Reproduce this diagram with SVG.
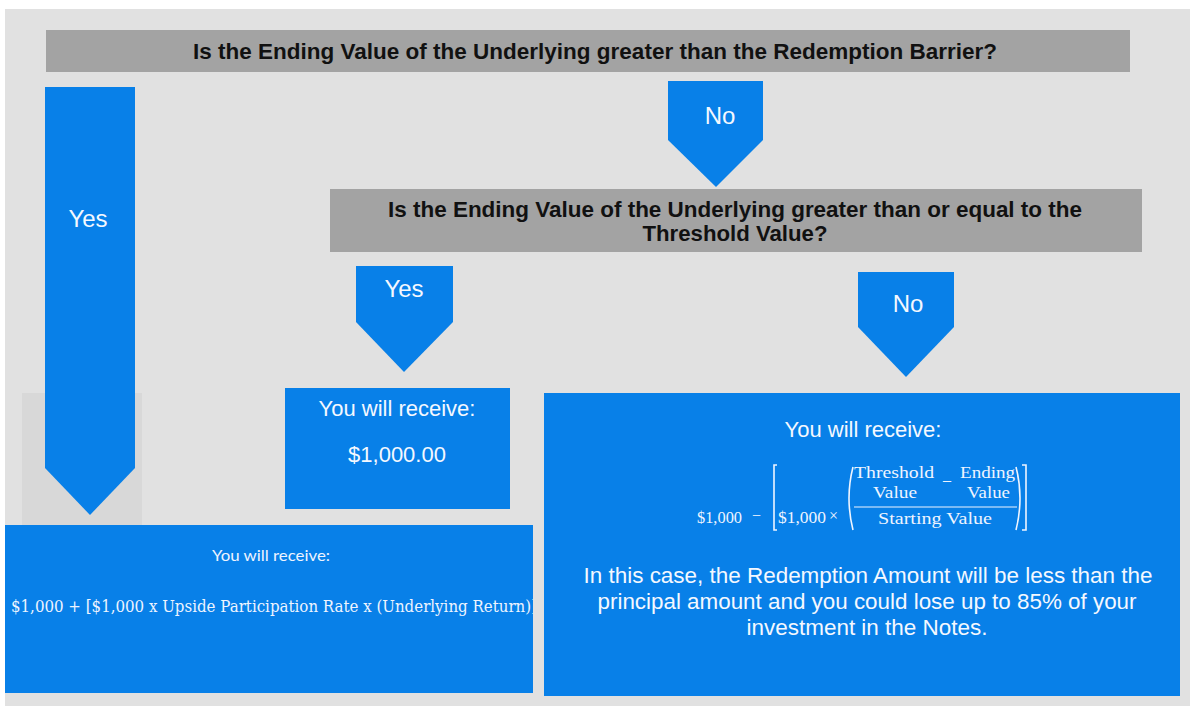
<svg xmlns="http://www.w3.org/2000/svg" width="1190" height="706" viewBox="0 0 1190 706">
<defs>
<style>
.q{fill:#a3a3a3}
.blue{fill:#0880e8}
.qt{font-family:"Liberation Sans",Arial,sans-serif;font-weight:bold;font-size:22px;fill:#111;text-anchor:middle}
.lbl{font-family:"Liberation Sans",Arial,sans-serif;font-size:24px;fill:#f4f8ff;text-anchor:middle}
.bt{font-family:"Liberation Sans",Arial,sans-serif;font-size:22px;fill:#f4f8ff;text-anchor:middle}
.mf{font-family:"Liberation Serif","DejaVu Serif",serif;font-size:16px;fill:#eef4ff}
.br{fill:none;stroke:#eef4ff;stroke-width:1.6}
</style>
<clipPath id="clipL"><rect x="5" y="525" width="528" height="168"/></clipPath>
</defs>
<rect x="0" y="0" width="1190" height="706" fill="#ffffff"/>
<rect x="5" y="9" width="1185" height="697" fill="#e1e1e1"/>
<rect x="22" y="393" width="120" height="132" fill="#d8d8d8"/>

<g id="q1">
<rect class="q" x="46" y="30" width="1084" height="42" fill="#a1a1a1"/>
<text class="qt" x="595" y="59" textLength="804" lengthAdjust="spacingAndGlyphs">Is the Ending Value of the Underlying greater than the Redemption Barrier?</text>
</g>

<g id="q2">
<rect class="q" x="330" y="189" width="812" height="63"/>
<text class="qt" x="735" y="217" font-size="21" textLength="694" lengthAdjust="spacingAndGlyphs">Is the Ending Value of the Underlying greater than or equal to the</text>
<text class="qt" x="735" y="241" font-size="21" textLength="185" lengthAdjust="spacingAndGlyphs">Threshold Value?</text>
</g>

<g id="connectors">
<g id="yes1">
<polygon class="blue" points="45,87 135,87 135,468 90,515 45,468"/>
<text class="lbl" x="88" y="227">Yes</text>
</g>
<g id="no1">
<polygon class="blue" points="668,81 763,81 763,140 716,187 668,140"/>
<text class="lbl" x="720" y="124">No</text>
</g>
<g id="yes2">
<polygon class="blue" points="356,266 453,266 453,322 404,372 356,322"/>
<text class="lbl" x="404" y="297">Yes</text>
</g>
<g id="no2">
<polygon class="blue" points="858,272 954,272 954,327 906,377 858,327"/>
<text class="lbl" x="908" y="312">No</text>
</g>
</g>

<g id="fixed">
<rect class="blue" x="285" y="388" width="225" height="121"/>
<text class="bt" x="397" y="416">You will receive:</text>
<text class="bt" x="397" y="462">$1,000.00</text>
</g>

<g id="upside">
<rect class="blue" x="5" y="525" width="528" height="168"/>
<text x="271" y="561" text-anchor="middle" font-family="Lato,'Open Sans',sans-serif" font-size="15" fill="#eef4ff" textLength="118" lengthAdjust="spacingAndGlyphs">You will receive:</text>
<g clip-path="url(#clipL)">
<text x="11" y="612" font-family="'DejaVu Serif','Liberation Serif',serif" font-size="16" fill="#eef4ff" textLength="526" lengthAdjust="spacingAndGlyphs">$1,000 + [$1,000 x Upside Participation Rate x (Underlying Return)]</text>
</g>
</g>

<g id="loss">
<rect class="blue" x="544" y="393" width="636" height="303"/>
<text class="bt" x="863" y="437">You will receive:</text>
<text class="mf" x="697" y="523" textLength="45" lengthAdjust="spacingAndGlyphs">$1,000</text>
<text class="mf" x="752" y="521" font-size="15">−</text>
<path class="br" d="M777,465 H774 V530 H777"/>
<text class="mf" x="778" y="523" textLength="48" lengthAdjust="spacingAndGlyphs">$1,000</text>
<text class="mf" x="829" y="521">×</text>
<path class="br" d="M853,467 Q845,498 853,530"/>
<text class="mf" x="854" y="478" textLength="80" lengthAdjust="spacingAndGlyphs">Threshold</text>
<text class="mf" x="943" y="480">_</text>
<text class="mf" x="960" y="478" textLength="55" lengthAdjust="spacingAndGlyphs">Ending</text>
<text class="mf" x="873" y="498" textLength="44" lengthAdjust="spacingAndGlyphs">Value</text>
<text class="mf" x="967" y="498" textLength="43" lengthAdjust="spacingAndGlyphs">Value</text>
<line x1="854" y1="507" x2="1017" y2="507" stroke="#eef4ff" stroke-width="1.2"/>
<text class="mf" x="878" y="524" textLength="114" lengthAdjust="spacingAndGlyphs">Starting Value</text>
<path class="br" d="M1016,467 Q1024,498 1016,530"/>
<path class="br" d="M1022,465 H1026 V530 H1022"/>
<text class="bt" x="868" y="583" textLength="569" lengthAdjust="spacingAndGlyphs">In this case, the Redemption Amount will be less than the</text>
<text class="bt" x="867" y="609" textLength="539" lengthAdjust="spacingAndGlyphs">principal amount and you could lose up to 85% of your</text>
<text class="bt" x="867" y="635" textLength="241" lengthAdjust="spacingAndGlyphs">investment in the Notes.</text>
</g>
</svg>
